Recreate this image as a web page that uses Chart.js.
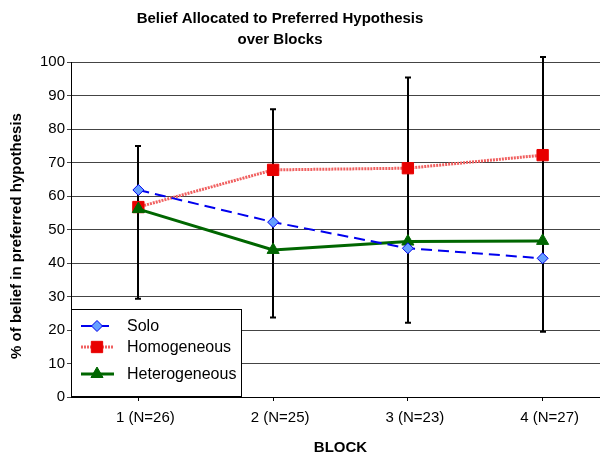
<!DOCTYPE html>
<html>
<head>
<meta charset="utf-8">
<script src="https://cdn.jsdelivr.net/npm/chart.js@4"></script>
<style>
  html, body { margin: 0; padding: 0; overflow: hidden; background: #fff; }
  canvas { display: block; }
</style>
</head>
<body>
<canvas id="beliefChart" width="610" height="457"></canvas>
<script>
const blocks = ['1 (N=26)', '2 (N=25)', '3 (N=23)', '4 (N=27)'];
const solo = [61.8, 52.2, 44.4, 41.4];
const homogeneous = [56.7, 67.8, 68.3, 72.2];
const heterogeneous = [56.1, 43.9, 46.4, 46.6];
// error bar ends per block
const errLow = [29.3, 23.7, 22.2, 19.5];
const errHigh = [74.9, 85.9, 95.4, 101.5];
const titleLines = ['Belief Allocated to Preferred Hypothesis', 'over Blocks'];
const yTitle = '% of belief in preferred hypothesis';

const FONT = '"Liberation Sans", Arial, sans-serif';

const titlePlugin = {
    id: 'titles',
    afterDraw(chart) {
        const ctx = chart.ctx;
        ctx.save();
        ctx.fillStyle = '#000';
        ctx.font = 'bold 15px ' + FONT;
        ctx.textAlign = 'center';
        ctx.textBaseline = 'middle';
        ctx.fillText(titleLines[0], 280, 19);
        ctx.fillText(titleLines[1], 280, 40);
        // rotated y axis title
        ctx.translate(17, 236);
        ctx.rotate(-Math.PI / 2);
        ctx.fillText(yTitle, 0, 0);
        ctx.restore();
    }
};

const errorBars = {
    id: 'errorBars',
    beforeDatasetsDraw(chart) {
        const ctx = chart.ctx;
        const x = chart.scales.x, y = chart.scales.y;
        ctx.save();
        ctx.strokeStyle = '#000';
        ctx.lineWidth = 2;
        blocks.forEach((b, i) => {
            const px = Math.round(x.getPixelForValue(i));
            const top = y.getPixelForValue(errHigh[i]);
            const bot = y.getPixelForValue(errLow[i]);
            ctx.beginPath();
            ctx.moveTo(px, top);
            ctx.lineTo(px, bot);
            ctx.moveTo(px - 3, top);
            ctx.lineTo(px + 3, top);
            ctx.moveTo(px - 3, bot);
            ctx.lineTo(px + 3, bot);
            ctx.stroke();
        });
        ctx.restore();
    }
};

// legend box sitting in the lower left corner of the plot
const boxLegend = {
    id: 'boxLegend',
    afterDatasetsDraw(chart) {
        const ctx = chart.ctx;
        const area = chart.chartArea;
        const left = area.left, bottom = area.bottom;
        const w = 171, h = 88;
        const rows = [bottom - 71, bottom - 50, bottom - 23];
        ctx.save();
        ctx.fillStyle = '#fff';
        ctx.fillRect(left, bottom - h, w, h);
        ctx.strokeStyle = '#000';
        ctx.lineWidth = 1;
        ctx.strokeRect(left + 0.5, bottom - h + 0.5, w - 1, h - 1);
        chart.data.datasets.forEach((ds, i) => {
            const yy = rows[i];
            ctx.save();
            ctx.strokeStyle = ds.borderColor;
            ctx.lineWidth = ds.borderWidth;
            ctx.setLineDash(ds.borderDash || []);
            ctx.beginPath();
            ctx.moveTo(left + 10, yy);
            ctx.lineTo(left + 43, yy);
            ctx.stroke();
            ctx.restore();
            ctx.save();
            ctx.fillStyle = ds.pointBackgroundColor;
            ctx.strokeStyle = ds.pointBorderColor;
            ctx.lineWidth = ds.pointBorderWidth;
            Chart.helpers.drawPoint(ctx, {
                pointStyle: ds.pointStyle,
                radius: ds.pointRadius,
                rotation: 0,
                borderWidth: ds.pointBorderWidth
            }, left + 26, yy);
            ctx.restore();
            ctx.fillStyle = '#000';
            ctx.font = '16px ' + FONT;
            ctx.textAlign = 'left';
            ctx.textBaseline = 'middle';
            ctx.fillText(ds.label, left + 56, yy + 1);
        });
        ctx.restore();
    }
};

const ctx = document.getElementById('beliefChart').getContext('2d');
const chart = new Chart(ctx, {
    type: 'line',
    data: {
        labels: blocks,
        datasets: [{
            label: 'Solo',
            data: solo,
            order: 0,
            borderColor: '#0000EE',
            borderWidth: 2,
            borderDash: [11, 6],
            pointStyle: 'rectRot',
            pointRadius: 5.5,
            pointBackgroundColor: '#66A0FF',
            pointBorderColor: '#0000EE',
            pointBorderWidth: 1
        }, {
            label: 'Homogeneous',
            data: homogeneous,
            order: 2,
            borderColor: '#F06060',
            borderWidth: 3,
            borderDash: [2, 1],
            pointStyle: 'rect',
            pointRadius: 8,
            pointBackgroundColor: '#E80000',
            pointBorderColor: '#E80000',
            pointBorderWidth: 1
        }, {
            label: 'Heterogeneous',
            data: heterogeneous,
            order: 1,
            borderColor: '#006600',
            borderWidth: 3,
            pointStyle: 'triangle',
            pointRadius: 7,
            pointBackgroundColor: '#006600',
            pointBorderColor: '#006600',
            pointBorderWidth: 1
        }]
    },
    options: {
        responsive: false,
        animation: false,
        // canvas is wider than the window: the plot runs past the right edge, as in the original
        layout: { autoPadding: false, padding: { top: 62, left: 0, right: 0, bottom: 0 } },
        plugins: {
            legend: { display: false },
            tooltip: { enabled: false }
        },
        scales: {
            x: {
                offset: true,
                grid: { drawOnChartArea: false, drawTicks: true, tickLength: 4, color: '#000' },
                border: { color: '#000', width: 1 },
                ticks: { color: '#000', font: { family: FONT, size: 15 }, padding: 8, labelOffset: 7 },
                title: {
                    display: true,
                    text: 'BLOCK',
                    color: '#000',
                    font: { family: FONT, size: 15, weight: 'bold' },
                    padding: { top: 0, bottom: 0 }
                },
                afterFit(scale) {
                    scale.height = 60;
                    scale.paddingLeft = 0;
                    scale.paddingRight = 0;
                }
            },
            y: {
                min: 0,
                max: 100,
                grid: { color: '#444', tickLength: 4 },
                border: { color: '#000', width: 1 },
                ticks: { stepSize: 10, color: '#000', font: { family: FONT, size: 15 }, padding: 2 },
                afterFit(scale) { scale.width = 71; }
            }
        }
    },
    plugins: [titlePlugin, errorBars, boxLegend]
});
</script>
</body>
</html>
